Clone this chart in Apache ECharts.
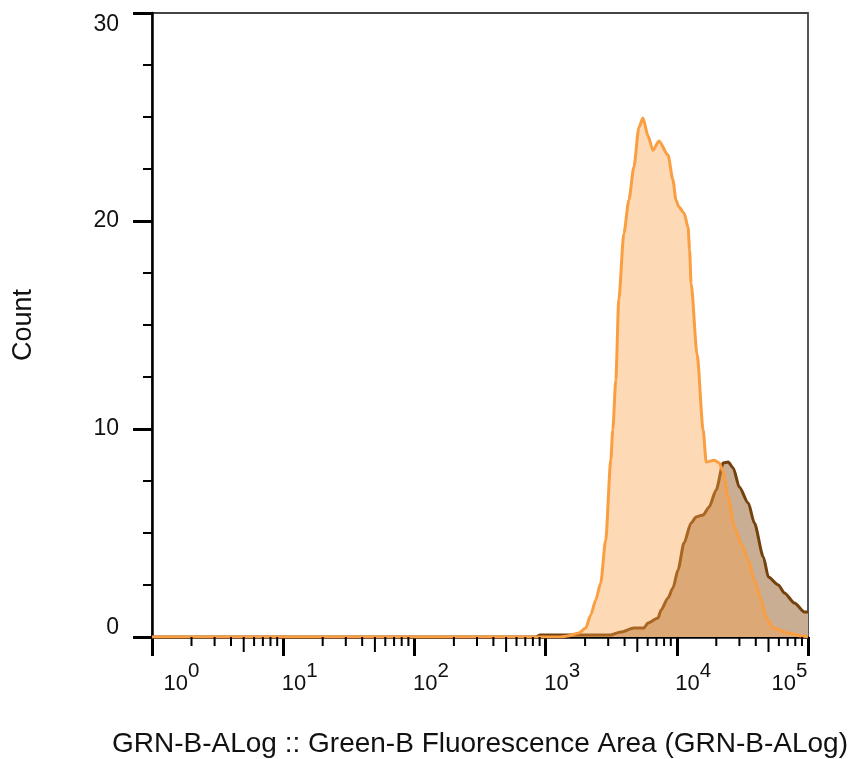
<!DOCTYPE html>
<html>
<head>
<meta charset="utf-8">
<script src="https://cdn.jsdelivr.net/npm/echarts@6/dist/echarts.min.js"></script>
<style>html,body{margin:0;padding:0;background:#fff;}#c{width:855px;height:759px;}</style>
</head>
<body>
<div id="c"></div>
<script>
// Light orange sample: [fluorescence, count]
const orangeX = [1, 1000, 1300, 1470, 1790, 2020, 2210, 2410, 2630, 2870, 3140, 3250, 3430, 3610, 3950, 4310, 4710, 5140, 5520, 6030, 6580, 7310, 8570, 9350, 9860, 10400, 11350, 12190, 12520, 12850, 14290, 15890, 16750, 19280, 21040, 22400, 24660, 27500, 31200, 35080, 39000, 44060, 48190, 54500, 70960, 89130, 100000];
const orangeY = [0, 0, 0, 0.05, 0.19, 0.43, 1.06, 1.78, 2.6, 4.66, 8.5, 9.95, 12.36, 16.2, 19.4, 21.0, 22.6, 24.5, 24.95, 24.1, 23.4, 23.85, 23.17, 21.97, 21.0, 20.67, 20.38, 19.7, 18.6, 17.0, 13.56, 9.95, 8.41, 8.5, 8.37, 8.0, 6.73, 5.29, 4.42, 3.7, 2.74, 1.78, 0.91, 0.43, 0.19, 0.05, 0];
// Dark brown sample
const brownX = [1, 840, 910, 2630, 3140, 3740, 4710, 5610, 6030, 7190, 7590, 8570, 9350, 10210, 11350, 12850, 14030, 15890, 17630, 19950, 22590, 24660, 26920, 29920, 35080, 39000, 45710, 49890, 59430, 66070, 78890, 93980, 100000];
const brownY = [0, 0, 0.1, 0.1, 0.1, 0.24, 0.43, 0.43, 0.67, 0.91, 1.3, 1.88, 2.36, 3.22, 4.52, 5.48, 5.77, 5.87, 6.25, 7.07, 8.37, 8.41, 8.13, 7.21, 6.44, 5.48, 3.85, 2.88, 2.5, 2.12, 1.63, 1.2, 1.2];
// Axis ticks
const yTicks = [0, 10, 20, 30];
const xDecades = [0, 1, 2, 3, 4];
const minorFactors = [2, 3, 4, 5, 6, 7, 8, 9];

const FONT = 'Liberation Sans, Arial, sans-serif';
const orangeData = orangeX.map((x, i) => [x, orangeY[i]]);
const brownData = brownX.map((x, i) => [x, brownY[i]]);
const minorData = [];
xDecades.forEach(d => minorFactors.forEach(f => minorData.push([f * Math.pow(10, d), f])));

const chart = echarts.init(document.getElementById('c'), null, {renderer: 'canvas'});
chart.setOption({
  animation: false,
  backgroundColor: '#fff',
  grid: {left: 152, right: 47, top: 13, bottom: 122, show: true, borderColor: '#444', borderWidth: 1.8, containLabel: false, outerBoundsMode: 'none'},
  xAxis: {
    type: 'log', logBase: 10, min: 1, max: 100000, interval: 1,
    name: 'GRN-B-ALog :: Green-B Fluorescence Area (GRN-B-ALog)',
    nameLocation: 'middle', nameGap: 93,
    nameTextStyle: {fontFamily: FONT, fontSize: 28, color: '#111'},
    axisLine: {show: true, onZero: false, lineStyle: {color: '#000', width: 2.5}},
    axisTick: {show: true, length: 19, lineStyle: {color: '#000', width: 3}},
    minorTick: {show: false},
    splitLine: {show: false},
    axisLabel: {
      margin: 23, align: 'center',
      formatter: function (v) {
        const e = Math.round(Math.log10(v));
        if (e === 0) return '{bf|10}{s|' + e + '}';
        if (e === 5) return '{b|10}{sl|' + e + '}';
        return '{bm|10}{s|' + e + '}';
      },
      rich: {
        b: {fontFamily: FONT, fontSize: 22, color: '#111', padding: [13, 0, 0, 0]},
        bm: {fontFamily: FONT, fontSize: 22, color: '#111', padding: [13, 0, 0, 33]},
        bf: {fontFamily: FONT, fontSize: 22, color: '#111', padding: [13, 0, 0, 59]},
        s: {fontFamily: FONT, fontSize: 20.5, color: '#111', padding: [0, 0, 13, 0]},
        sl: {fontFamily: FONT, fontSize: 20.5, color: '#111', padding: [0, 37, 13, 0]}
      }
    }
  },
  yAxis: {
    type: 'value', min: 0, max: 30, interval: 10,
    name: 'Count', nameLocation: 'middle', nameGap: 115,
    nameTextStyle: {fontFamily: FONT, fontSize: 27, color: '#111'},
    axisLine: {show: true, lineStyle: {color: '#000', width: 2.5}},
    axisTick: {show: true, length: 19, lineStyle: {color: '#000', width: 3}},
    minorTick: {show: true, splitNumber: 4, length: 9, lineStyle: {color: '#000', width: 2}},
    splitLine: {show: false},
    axisLabel: {
      margin: 33,
      formatter: function (v) {
        if (v === 30) return '{t|' + v + '}';
        if (v === 0) return '{z|' + v + '}';
        return '{n|' + v + '}';
      },
      rich: {
        n: {fontFamily: FONT, fontSize: 23, color: '#111'},
        t: {fontFamily: FONT, fontSize: 23, color: '#111', padding: [24, 0, 0, 0]},
        z: {fontFamily: FONT, fontSize: 23, color: '#111', padding: [0, 0, 18, 0]}
      }
    }
  },
  series: [
    {
      name: 'brown', type: 'line', data: brownData, showSymbol: false, symbol: 'none',
      smooth: 0.25, smoothMonotone: 'x',
      lineStyle: {color: '#74400C', width: 3},
      areaStyle: {color: '#C9AE94', opacity: 1},
      z: 2
    },
    {
      name: 'orange', type: 'line', data: orangeData, showSymbol: false, symbol: 'none',
      smooth: 0.25, smoothMonotone: 'x',
      lineStyle: {color: '#FA9E42', width: 3},
      areaStyle: {color: '#FAA046', opacity: 0.4},
      z: 3
    },
    {
      name: 'minorTicks', type: 'custom', data: minorData, clip: false, silent: true, z: 10,
      renderItem: function (params, api) {
        const v = api.value(0), f = api.value(1);
        const p = api.coord([v, 0]);
        const len = f === 5 ? 15 : 9;
        return {type: 'line', shape: {x1: p[0], y1: p[1], x2: p[0], y2: p[1] + len},
                style: {stroke: '#000', lineWidth: 2}};
      }
    }
  ]
});
</script>
</body>
</html>
